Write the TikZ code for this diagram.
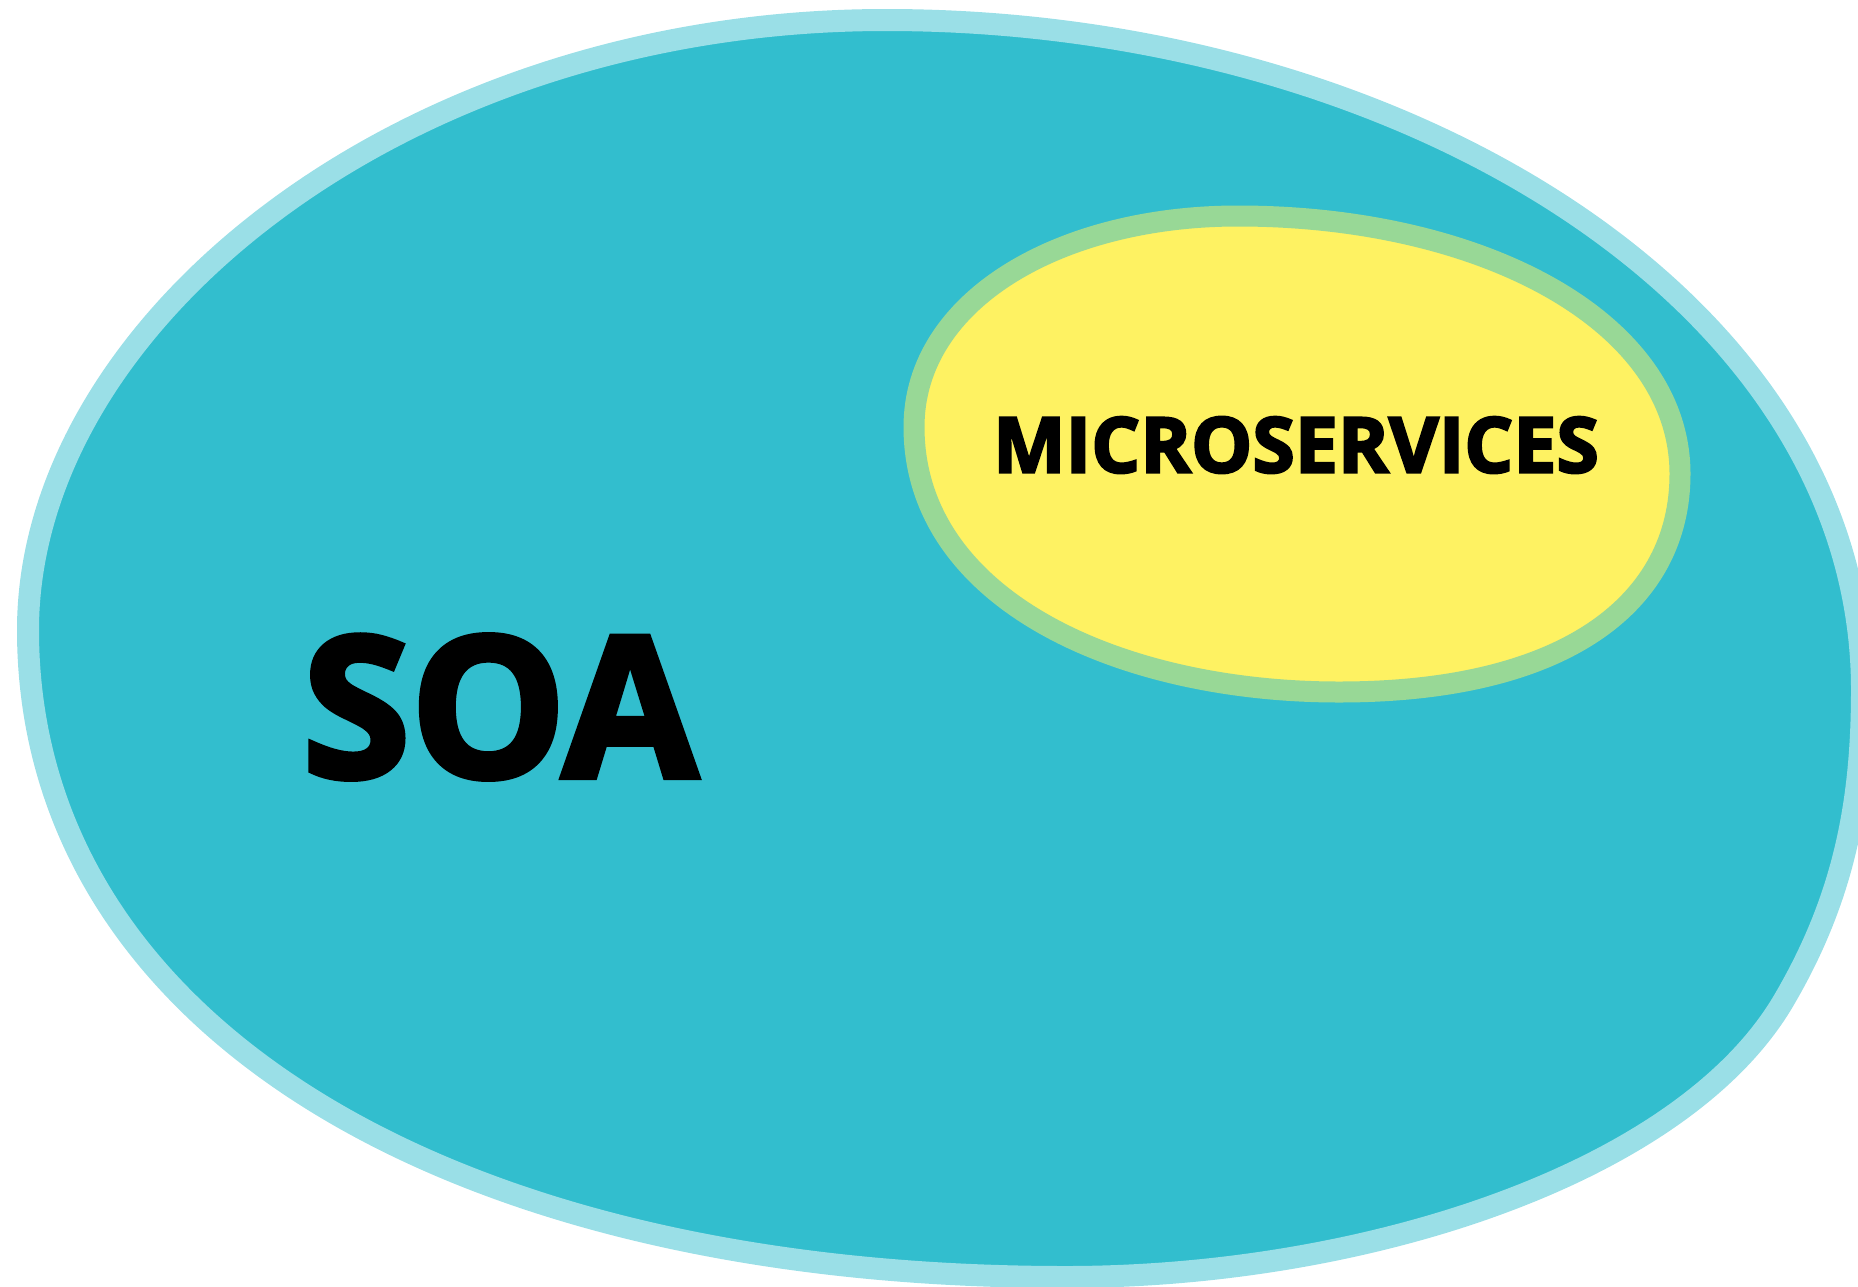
\documentclass[tikz,border=0pt]{standalone}
\usepackage{fontspec}
\newfontfamily\blobfont[FakeBold=3]{Open Sans Bold}
\definecolor{soafill}{HTML}{32BECE}
\definecolor{soaedge}{HTML}{9ADFE7}
\definecolor{msfill}{HTML}{FEF262}
\definecolor{msedge}{HTML}{98D896}
\tikzset{
  soablob/.style={line width=22pt,draw=soaedge,fill=soafill},
  msblob/.style={line width=21pt,draw=msedge,fill=msfill},
  bigword/.style={font=\blobfont\fontsize{196}{196}\selectfont,inner sep=0pt},
  smallword/.style={font=\blobfont\fontsize{77}{77}\selectfont,inner sep=0pt}
}
\begin{document}
\begin{tikzpicture}[x=1pt,y=-1pt]
    \useasboundingbox (0,0) rectangle (1858,1286);
    % outer region
    \draw[soablob] (886,20) .. controls (400,20) and (28,325) .. (28,630)
        .. controls (28,1020) and (440,1277) .. (1066,1277)
        .. controls (1366,1277) and (1683,1173) .. (1784,1000)
        .. controls (1845,896) and (1862,800) .. (1862,690)
        .. controls (1862,300) and (1400,20) .. cycle;
    % inner region
    \draw[msblob] (1238,216) .. controls (1060,216) and (914,300) .. (914,427)
        .. controls (914,600) and (1120,692) .. (1339,692)
        .. controls (1570,692) and (1680,600) .. (1680,474)
        .. controls (1680,320) and (1480,216) .. cycle;
    \node[bigword] (soa) at (500,707) {SOA};
    \node[smallword] (micro) at (1296,445) {MICROSERVICES};
\end{tikzpicture}
\end{document}
